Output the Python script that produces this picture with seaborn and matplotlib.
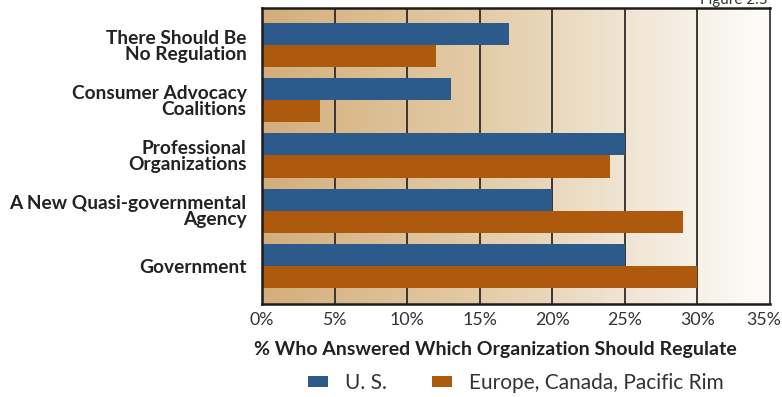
import numpy as np
import pandas as pd
import matplotlib
matplotlib.use("Agg")
import matplotlib.pyplot as plt
from matplotlib.colors import LinearSegmentedColormap
from matplotlib.patches import Patch
from matplotlib.transforms import ScaledTranslation
import seaborn as sns

categories = [
    "There Should Be\nNo Regulation",
    "Consumer Advocacy\nCoalitions",
    "Professional\nOrganizations",
    "A New Quasi-governmental\nAgency",
    "Government",
]
us_values = [17, 13, 25, 20, 25]
intl_values = [12, 4, 24, 29, 30]
series_names = ["U. S.", "Europe, Canada, Pacific Rim"]
tick_values = [0, 5, 10, 15, 20, 25, 30, 35]
tick_labels = ["0%", "5%", "10%", "15%", "20%", "25%", "30%", "35%"]

colors = {"U. S.": "#2c5a8a", "Europe, Canada, Pacific Rim": "#ad5a0f"}

df = pd.DataFrame({
    "category": categories * 2,
    "series": [series_names[0]] * len(categories) + [series_names[1]] * len(categories),
    "value": us_values + intl_values,
})

sns.set_theme(style="white")
plt.rcParams["font.family"] = ["Lato", "DejaVu Sans"]

fig = plt.figure(figsize=(7.82, 3.97), dpi=100)
ax = fig.add_axes([262 / 782, 1 - 304 / 397, (770 - 262) / 782, (304 - 8) / 397])

sns.barplot(data=df, y="category", x="value", hue="series", orient="h",
            palette=colors, width=0.8, saturation=1, ax=ax, legend=False,
            zorder=2, edgecolor="none")

ylim = (4.69, -0.67)

# warm left-to-right gradient behind the bars
cmap = LinearSegmentedColormap.from_list(
    "warm", [(0, "#d3ae7c"), (0.45, "#e4cda9"), (0.72, "#f0e5d4"), (1, "#fefdfb")])
grad = np.linspace(0, 1, 256).reshape(1, -1)
ax.imshow(grad, cmap=cmap, aspect="auto", extent=[0, 35, ylim[0], ylim[1]],
          zorder=0, interpolation="bilinear")
ax.set_xlim(0, 35)
ax.set_ylim(*ylim)

# vertical gridlines
for v in tick_values[1:-1]:
    ax.axvline(v, color="#2e2a26", lw=1.3, zorder=1)

ax.set_xticks(tick_values)
ax.set_xticklabels(tick_labels, fontsize=12.8, color="#333333")
ax.tick_params(axis="x", length=0, pad=6)
ax.tick_params(axis="y", length=0, pad=11)
# keep the last tick label inside the figure edge
last = ax.get_xticklabels()[-1]
last.set_transform(last.get_transform() + ScaledTranslation(-6 / 100, 0, fig.dpi_scale_trans))
for lab in ax.get_yticklabels():
    lab.set_fontweight("bold")
    lab.set_fontsize(13.8)
    lab.set_color("#222222")
    lab.set_linespacing(0.95)
ax.set_ylabel("")
ax.set_xlabel("% Who Answered Which Organization Should Regulate",
              fontsize=14, fontweight="bold", color="#222222")
ax.xaxis.set_label_coords(0.459, -0.125)

for side in ["left", "bottom", "top"]:
    ax.spines[side].set_color("#1e1b18")
    ax.spines[side].set_linewidth(1.8)
ax.spines["right"].set_color("#3a3a3a")
ax.spines["right"].set_linewidth(1.3)
for s in ax.spines.values():
    s.set_zorder(5)

handles = [Patch(facecolor=colors[n], edgecolor="none") for n in series_names]
fig.legend(handles, series_names, loc="center", bbox_to_anchor=(516 / 782, 1 - 383 / 397),
           ncol=2, frameon=False, fontsize=15, handlelength=0.95, handleheight=0.45,
           columnspacing=2.2, handletextpad=0.8, labelcolor="#333333")

fig.text(768 / 782, 1 - 4 / 397, "Figure 2.5", ha="right", va="baseline",
         fontsize=11, color="#333333")

fig.savefig("out.png", dpi=100)
